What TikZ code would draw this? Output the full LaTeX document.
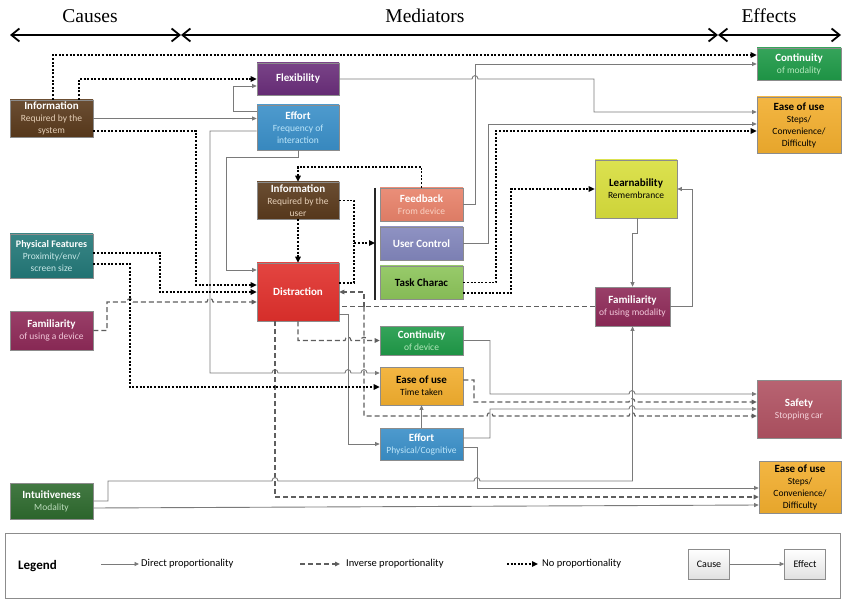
\documentclass[tikz,border=0pt]{standalone}
\usepackage{fontspec}
\setmainfont{Liberation Serif}
\newfontfamily\boxfont{Carlito}
\usetikzlibrary{arrows.meta}
\definecolor{cBrown}{HTML}{5A3A1C}
\definecolor{cBrownS}{HTML}{E6D0B8}
\definecolor{cPurple}{HTML}{6A2E7A}
\definecolor{cBlue}{HTML}{3A8FC8}
\definecolor{cBlueS}{HTML}{BDE6FA}
\definecolor{cGreen}{HTML}{1F9A48}
\definecolor{cGreenS}{HTML}{B4E8BC}
\definecolor{cOrange}{HTML}{F2AE2E}
\definecolor{cSalmon}{HTML}{E8826A}
\definecolor{cSalmonS}{HTML}{FAD2C4}
\definecolor{cLav}{HTML}{8286BC}
\definecolor{cLgreen}{HTML}{8CC45A}
\definecolor{cYellow}{HTML}{D8DE3C}
\definecolor{cTeal}{HTML}{237878}
\definecolor{cTealS}{HTML}{C8E8E8}
\definecolor{cMaroon}{HTML}{8E2A58}
\definecolor{cMaroonS}{HTML}{F2C8DA}
\definecolor{cRed}{HTML}{E0302C}
\definecolor{cRose}{HTML}{B05262}
\definecolor{cRoseS}{HTML}{F4D2DA}
\definecolor{cDgreen}{HTML}{2E6A2E}
\definecolor{cDgreenS}{HTML}{BCDCBC}
\definecolor{cBorder}{HTML}{8C8C8C}
\definecolor{cLine}{HTML}{7A7A7A}
\definecolor{cDash}{HTML}{5E5E5E}
\newcommand\ttl[1]{{\fontsize{11}{13}\selectfont\bfseries #1}}
\newcommand\subtx[2]{{\color{#1}#2}}
\tikzset{
  box/.style 2 args={draw=cBorder, line width=0.7pt, inner sep=1pt, align=center,
    text=white, font=\boxfont\fontsize{9.5}{12}\selectfont,
    minimum width=#1pt, minimum height=#2pt},
  fillc/.style={top color=#1!90!white, bottom color=#1!95!black},
  direct/.style={draw=cLine, line width=0.9pt, -{Triangle[length=4.5pt,width=4pt]}},
  inverse/.style={draw=cDash, line width=1.1pt, dash pattern=on 5pt off 3pt, -{Triangle[length=5pt,width=4.5pt]}},
  noprop/.style={draw=black, line width=1.6pt, dash pattern=on 2pt off 1.6pt, -{Triangle[length=6pt,width=5.5pt]}},
  header/.style={font=\fontsize{19.5}{22}\selectfont},
  headarrow/.style={line width=1.8pt, {Straight Barb[length=8pt,width=13pt]}-{Straight Barb[length=8pt,width=13pt]}},
  legtext/.style={font=\boxfont\fontsize{10.5}{12}\selectfont, anchor=west, inner sep=0pt},
  legbox/.style={draw=cBorder, line width=0.7pt, top color=white, bottom color=black!12, font=\boxfont\fontsize{10}{12}\selectfont, minimum width=41pt, minimum height=30pt, inner sep=1pt}
}
\begin{document}
\begin{tikzpicture}[x=1pt,y=-1pt]
\useasboundingbox (0,0) rectangle (842,601);
\fill[white] (0,0) rectangle (842,601);

% headers
\node[header] (hCause) at (90,16) {Causes};
\node[header] (hMed) at (425,16) {Mediators};
\node[header] (hEff) at (769,16) {Effects};
\coordinate (a0) at (10,35);
\coordinate (a1) at (181,35);
\coordinate (a2) at (718,35);
\coordinate (a3) at (841,35);
\draw[headarrow] (a0) -- (a1);
\draw[headarrow] (a1) -- (a2);
\draw[headarrow] (a2) -- (a3);

% boxes
\node[box={83}{37}, fillc=cBrown] (infoS) at (51.5,118.5) {\ttl{Information}\\\subtx{cBrownS}{Required by the}\\\subtx{cBrownS}{system}};
\node[box={82}{32}, fillc=cPurple] (flex) at (298,79) {\ttl{Flexibility}};
\node[box={82}{45}, fillc=cBlue] (effF) at (298,127.5) {\ttl{Effort}\\\subtx{cBlueS}{Frequency of}\\\subtx{cBlueS}{interaction}};
\node[box={84}{32}, fillc=cGreen] (contM) at (799,64) {\ttl{Continuity}\\\subtx{cGreenS}{of modality}};
\node[box={84}{56}, fillc=cOrange, text=black] (easeT) at (799,125) {\ttl{Ease of use}\\Steps/\\Convenience/\\Difficulty};
\node[box={82}{37}, fillc=cBrown] (infoU) at (298,200.5) {\ttl{Information}\\\subtx{cBrownS}{Required by the}\\\subtx{cBrownS}{user}};
\node[box={83}{33}, fillc=cSalmon] (feed) at (421.5,204.5) {\ttl{Feedback}\\\subtx{cSalmonS}{From device}};
\node[box={83}{33}, fillc=cLav] (uctl) at (421.5,243.5) {\ttl{User Control}};
\node[box={83}{33}, fillc=cLgreen, text=black] (task) at (421.5,282.5) {\ttl{Task Charac}};
\node[box={82}{58}, fillc=cYellow, text=black] (learn) at (636,189) {\ttl{Learnability}\\Remembrance};
\node[box={83}{44}, fillc=cTeal] (phys) at (51.5,256) {{\fontsize{10}{12}\selectfont\bfseries Physical Features}\\\subtx{cTealS}{Proximity/env/}\\\subtx{cTealS}{screen size}};
\node[box={83}{39}, fillc=cMaroon] (famD) at (51.5,330.5) {\ttl{Familiarity}\\\subtx{cMaroonS}{of using a device}};
\node[box={82}{58}, fillc=cRed] (dist) at (298,292) {\ttl{Distraction}};
\node[box={75}{39}, fillc=cMaroon] (famM) at (632.5,306.5) {\ttl{Familiarity}\\\subtx{cMaroonS}{of using modality}};
\node[box={83}{29}, fillc=cGreen] (contD) at (421.5,340.5) {\ttl{Continuity}\\\subtx{cGreenS}{of device}};
\node[box={83}{38}, fillc=cOrange, text=black] (easeM) at (421.5,386) {\ttl{Ease of use}\\Time taken};
\node[box={84}{58}, fillc=cRose] (safety) at (799,409) {\ttl{Safety}\\\subtx{cRoseS}{Stopping car}};
\node[box={83}{32}, fillc=cBlue] (effP) at (421.5,444) {\ttl{Effort}\\\subtx{cBlueS}{Physical/Cognitive}};
\node[box={83}{36}, fillc=cDgreen] (intu) at (51.5,501) {\ttl{Intuitiveness}\\\subtx{cDgreenS}{Modality}};
\node[box={82}{52}, fillc=cOrange, text=black] (easeB) at (800,487) {\ttl{Ease of use}\\Steps/\\Convenience/\\Difficulty};

% grouping bar
\coordinate (barTop) at (375,188);
\coordinate (barBot) at (375,300);
\coordinate (barMid) at (375,243);
\draw[line width=1.5pt, black!85] (barTop) -- (barBot);

% connectors
\draw[noprop] ([xshift=1.5pt]infoS.north) |- ([yshift=9pt]contM.west);
\draw[noprop] ([xshift=27.5pt]infoS.north) |- (flex.west);
\draw[direct] (infoS.east) -- (infoS.east -| effF.west);
\draw[noprop] ([yshift=-12.5pt]infoS.east) -| (196,285) -- ([yshift=7pt]dist.west);
\draw[direct] ([yshift=16.5pt]effF.west) -| (233,86) -- ([yshift=-7pt]flex.west);
\draw[direct] (flex.east) -- (472,79) .. controls (472,74.5) and (478,74.5) .. (478,79) -| (594,112) -- ([yshift=13pt]easeT.west);
\draw[direct] (feed.east) -| (475,64) -- (contM.west);
\draw[direct] (uctl.east) -| (488,124) -- ([yshift=1pt]easeT.west);
\draw[noprop] (task.east) -| (496,131) -- ([yshift=-6pt]easeT.west);
\draw[noprop] ([yshift=-10.5pt]task.east) -| (511,189) -- (learn.west);
\draw[direct] ([yshift=-3.5pt]effF.west) -| (210,373)
   -- (272,373) .. controls (272,368.5) and (278,368.5) .. (278,373)
   -- (345,373) .. controls (345,368.5) and (351,368.5) .. (351,373)
   -- (361,373) .. controls (361,368.5) and (367,368.5) .. (367,373)
   -- ([yshift=13pt]easeM.west);
\draw[direct] (effF.south) |- (226,157) |- ([yshift=22pt]dist.west);
\draw[noprop] (feed.north) |- (298,167) -- (infoU.north);
\draw[noprop] (infoU.south) -- (dist.north);
\draw[noprop] (infoU.east) -| (354,243) -- (barMid);
\draw[noprop, -] ([yshift=9pt]dist.east) -| (354,243);
\coordinate (jFam) at (364,306.5);
\draw[inverse, -] (famM.west) -- (famM.west -| dist.east);
\draw[inverse] (jFam) |- (dist.east);
\draw[inverse] (jFam) |- (487,416)
   .. controls (487,411.5) and (493,411.5) .. (493,416)
   -- (629,416) .. controls (629,411.5) and (635,411.5) .. (635,416)
   -- ([yshift=-7pt]safety.west);
\draw[inverse] (dist.south) |- (345,340.5)
   .. controls (345,336) and (351,336) .. (351,340.5)
   -- (361,340.5) .. controls (361,336) and (367,336) .. (367,340.5)
   -- (contD.west);
\draw[inverse] ([xshift=-23pt]dist.south) |- ([yshift=-10pt]easeB.west);
\draw[direct] ([yshift=-22pt]dist.east) -| (348,444) -- (effP.west);
\draw[direct] (effP.north) -- (easeM.south);
\draw[direct] (contD.east) -| (490,394) -- (629,394) .. controls (629,389.5) and (635,389.5) .. (635,394) -- ([yshift=15pt]safety.west);
\draw[inverse] ([yshift=6pt]easeM.east) -| (474,402) -- (629,402) .. controls (629,397.5) and (635,397.5) .. (635,402) -- ([yshift=7pt]safety.west);
\draw[direct] ([yshift=6pt]effP.east) -| (490,409) -- (629,409) .. controls (629,404.5) and (635,404.5) .. (635,409) -- (safety.west);
\draw[direct] (famM.east) -| (692,189) -- (learn.east);
\draw[direct] ([xshift=1pt]learn.south) |- (632.5,233) -- (famM.north);
\draw[direct] (intu.east) -| (108,481)
   -- (272,481) .. controls (272,476.5) and (278,476.5) .. (278,481)
   -- (474,481) .. controls (474,476.5) and (480,476.5) .. (480,481)
   -| (famM.south);
\draw[direct] ([yshift=-3pt]effP.east) -| (477,488) -- ([yshift=-1pt]easeB.west);
\draw[direct] ([yshift=-7pt]intu.east) -- ([yshift=-18pt]easeB.west);
\draw[inverse] (famD.east) -| (107,302)
   -- (127,302) .. controls (127,297.5) and (133,297.5) .. (133,302)
   -- (207,302) .. controls (207,297.5) and (213,297.5) .. (213,302)
   -- ([yshift=-10pt]dist.west);
\draw[noprop] ([yshift=3pt]phys.east) -| (160,292) -- (dist.west);
\draw[noprop] ([yshift=-8pt]phys.east) -| (130,387) -- ([yshift=-1pt]easeM.west);

% legend
\node[draw=cBorder, line width=0.8pt, minimum width=835pt, minimum height=65pt, inner sep=0pt] (legend) at (422.5,565.5) {};
\node[font=\boxfont\fontsize{13}{15}\selectfont\bfseries, anchor=west, inner sep=0pt] (legTitle) at (18,566) {Legend};
\coordinate (l1a) at (101,564); \coordinate (l1b) at (139,564);
\draw[direct] (l1a) -- (l1b);
\node[legtext] (l1t) at (141,564) {Direct proportionality};
\coordinate (l2a) at (300,564); \coordinate (l2b) at (340,564);
\draw[inverse] (l2a) -- (l2b);
\node[legtext] (l2t) at (346,564) {Inverse proportionality};
\coordinate (l3a) at (507,564); \coordinate (l3b) at (538,564);
\draw[noprop] (l3a) -- (l3b);
\node[legtext] (l3t) at (542,564) {No proportionality};
\node[legbox] (lCause) at (709,564) {Cause};
\node[legbox] (lEffect) at (805,564) {Effect};
\draw[direct] (lCause) -- (lEffect);
\end{tikzpicture}
\end{document}
